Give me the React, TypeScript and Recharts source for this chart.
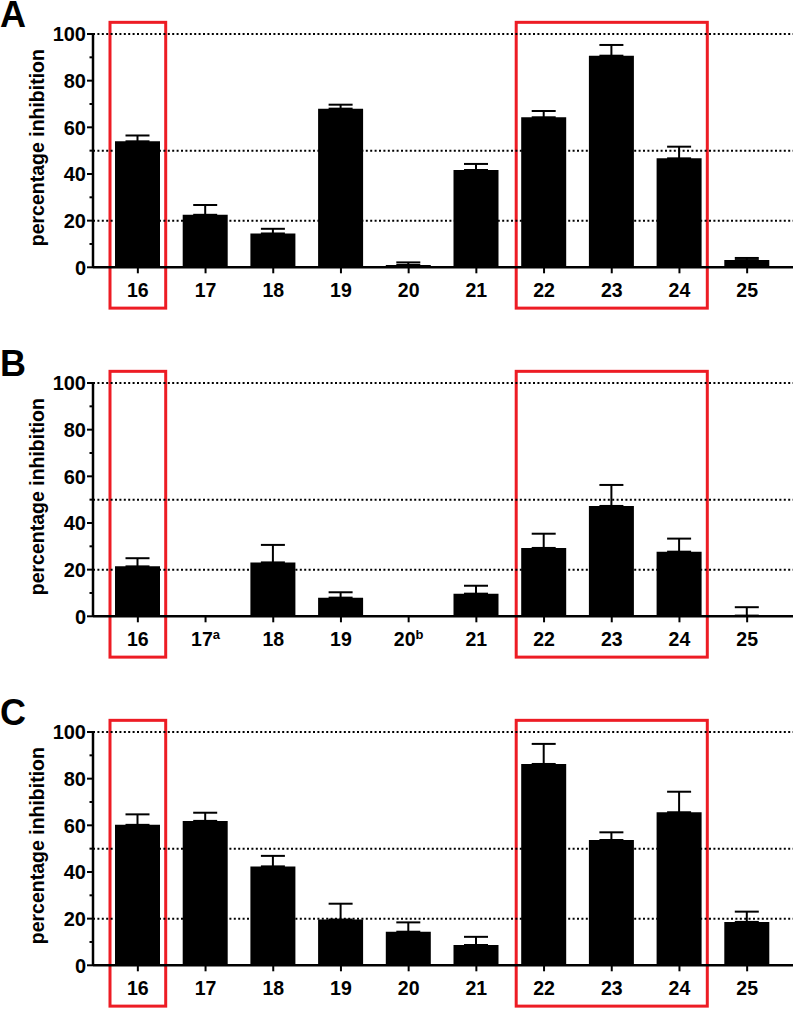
import React from 'react';
import { BarChart, Bar, XAxis, YAxis, ErrorBar, ReferenceLine, ReferenceArea } from 'recharts';

const categories = ['16', '17', '18', '19', '20', '21', '22', '23', '24', '25'];

const panelAValues = [54, 22.5, 14.5, 68, 1, 41.7, 64.3, 90.7, 46.7, 3.1];
const panelAErrors = [2.5, 4.2, 2, 1.7, 1.1, 2.6, 2.7, 4.6, 5, 0.9];

// 17 and 20 were not measured in B; 25 sits at about zero with only its whisker showing
const panelBValues = [21.4, null, 23.1, 8, null, 9.7, 29.3, 47.3, 27.7, 0.3];
const panelBErrors = [3.5, null, 7.5, 2.3, null, 3.4, 6.1, 9, 5.6, 3.6];
const panelBNotes = ['', 'a', '', '', 'b', '', '', '', '', ''];

const panelCValues = [60.2, 61.9, 42.4, 19.6, 14.4, 8.7, 86.3, 53.7, 65.6, 18.6];
const panelCErrors = [4.5, 3.5, 4.5, 6.8, 4, 3.5, 8.6, 3.3, 8.8, 4.4];

const yTicks = [0, 10, 20, 30, 40, 50, 60, 70, 80, 90, 100];
const gridLevels = [20, 50, 100];
const highlightGroups = [['16', '16'], ['22', '24']];

const FONT = '"Liberation Sans", Arial, Helvetica, sans-serif';
const RED = '#ed1c24';

const YTick = (props: any) => {
  const { x, y, payload } = props;
  const major = payload.value % 20 === 0;
  return (
    <g>
      <line x1={x - (major ? 6 : 3.5)} x2={x} y1={y} y2={y} stroke="#000" strokeWidth={2} />
      {major && (
        <text x={x - 7} y={y} dy="0.36em" textAnchor="end" fontFamily={FONT} fontWeight="bold" fontSize={20} fill="#000">
          {payload.value}
        </text>
      )}
    </g>
  );
};

const makeXTick = (notes?: string[]) => (props: any) => {
  const { x, y, payload, index } = props;
  const note = notes ? notes[index] : '';
  return (
    <text x={x} y={y} dy="0.71em" textAnchor="middle" fontFamily={FONT} fontWeight="bold" fontSize={19.5} fill="#000">
      {payload.value}
      {note && (
        <tspan dy={-7} fontSize={13}>
          {note}
        </tspan>
      )}
    </text>
  );
};

const YLabel = (props: any) => {
  const { viewBox } = props;
  const cx = viewBox.x + 37;
  const cy = viewBox.y + viewBox.height / 2 - 3;
  return (
    <text
      x={cx}
      y={cy}
      transform={`rotate(-90 ${cx} ${cy})`}
      textAnchor="middle"
      dominantBaseline="central"
      fontFamily={FONT}
      fontWeight="bold"
      fontSize={19.5}
      fill="#000"
    >
      percentage inhibition
    </text>
  );
};

const RedBox = (props: any) => {
  const { x, y, width, height } = props;
  return <rect x={x + 6} y={y} width={width - 12} height={height} fill="none" stroke={RED} strokeWidth={3} />;
};

type PanelProps = {
  letter: string;
  top: number;
  values: (number | null)[];
  errors: (number | null)[];
  notes?: string[];
};

const Panel: React.FC<PanelProps> = ({ letter, top, values, errors, notes }) => {
  const data = categories.map((name, i) => ({
    name,
    value: values[i],
    err: errors[i] == null ? null : [0, errors[i]],
  }));

  return (
    <div style={{ position: 'absolute', left: 0, top, width: 794, height: 312 }}>
      <BarChart width={794} height={312} data={data} margin={{ top: 34, right: 1, left: 0, bottom: 14.7 }} barSize={45}>
        {gridLevels.map((v) => (
          <ReferenceLine key={v} y={v} stroke="#000" strokeWidth={2} strokeDasharray="2 2.4" />
        ))}
        <XAxis
          dataKey="name"
          height={30}
          padding={{ left: 11, right: 12 }}
          axisLine={{ stroke: '#000', strokeWidth: 2.5 }}
          tickLine={{ stroke: '#000', strokeWidth: 2 }}
          tickSize={6}
          tickMargin={10}
          interval={0}
          tick={makeXTick(notes)}
        />
        <YAxis
          width={93}
          domain={[0, 100]}
          ticks={yTicks}
          interval={0}
          axisLine={{ stroke: '#000', strokeWidth: 2.5 }}
          tickLine={false}
          tickSize={0}
          tickMargin={0}
          tick={<YTick />}
          label={<YLabel />}
        />
        <Bar dataKey="value" fill="#000" isAnimationActive={false}>
          <ErrorBar dataKey="err" width={12} stroke="#000" strokeWidth={2} direction="y" isAnimationActive={false} />
        </Bar>
        {highlightGroups.map(([a, b]) => (
          <ReferenceArea key={a} x1={a} x2={b} y1={-17.5} y2={105} ifOverflow="visible" shape={<RedBox />} />
        ))}
      </BarChart>
      <div
        style={{
          position: 'absolute',
          left: 0,
          top: 0,
          fontFamily: FONT,
          fontWeight: 'bold',
          fontSize: 36,
          lineHeight: '30px',
          color: '#000',
        }}
      >
        {letter}
      </div>
    </div>
  );
};

export default function App() {
  return (
    <div style={{ position: 'absolute', left: 0, top: 0, width: 794, height: 1010, background: '#fff', overflow: 'hidden' }}>
      <Panel letter="A" top={0} values={panelAValues} errors={panelAErrors} />
      <Panel letter="B" top={349.3} values={panelBValues} errors={panelBErrors} notes={panelBNotes} />
      <Panel letter="C" top={698.3} values={panelCValues} errors={panelCErrors} />
    </div>
  );
}
